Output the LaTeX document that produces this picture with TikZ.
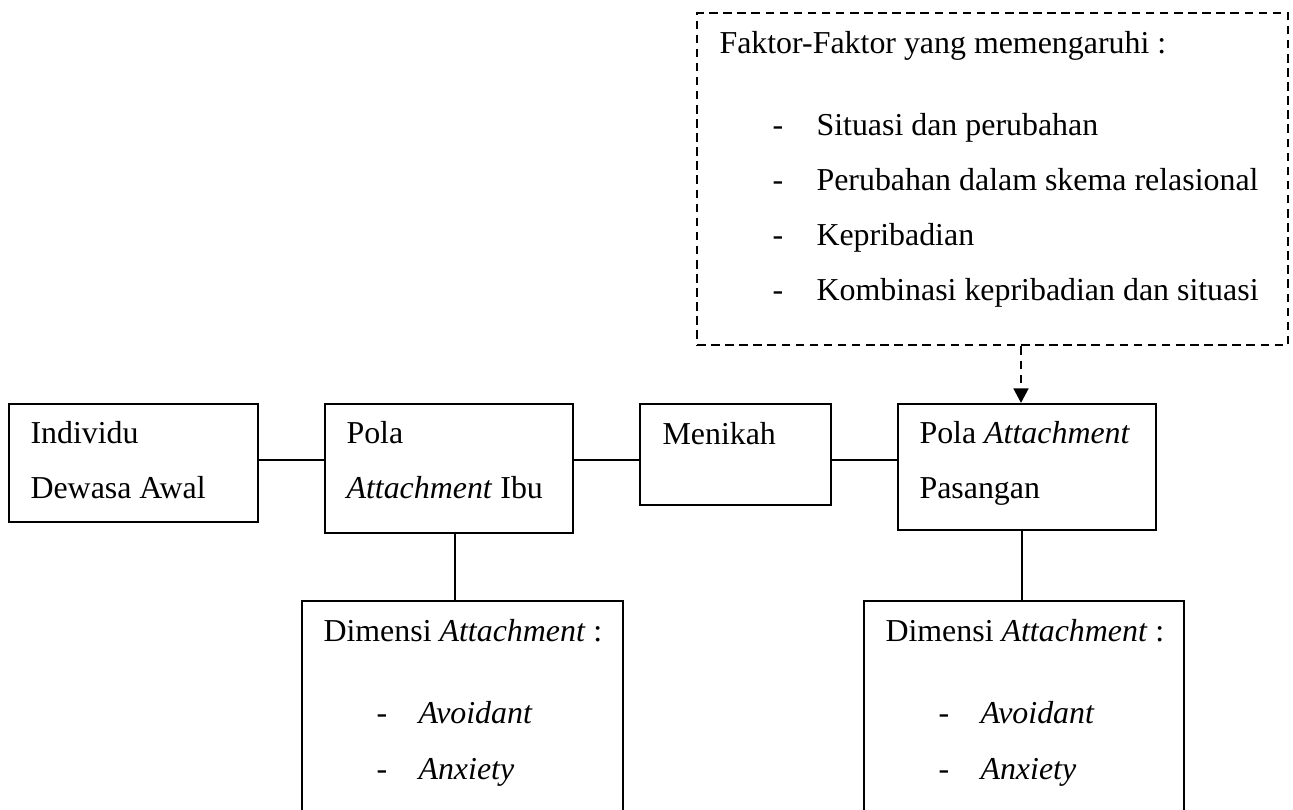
\documentclass[tikz,border=0pt]{standalone}
\usepackage{fontspec}
\setmainfont{Liberation Serif}
\usetikzlibrary{arrows.meta,fit}

\begin{document}
\begin{tikzpicture}[x=0.3762pt,y=-0.3762pt,font=\fontsize{12}{14}\selectfont,
  box/.style={draw=black,line width=0.75pt,inner sep=0pt},
  dashbox/.style={draw=black,line width=1.1pt,dash pattern=on 3.2pt off 2.1pt,inner sep=0pt},
  link/.style={draw=black,line width=0.75pt},
  dashlink/.style={draw=black,line width=1.1pt,dash pattern=on 3.2pt off 2.1pt,-{Triangle[length=5.5pt,width=5.5pt]}},
  txt/.style={anchor=base west,inner sep=0pt}]
\useasboundingbox (0,0) rectangle (1293,810);
\clip (0,0) rectangle (1293,810);
% boxes
\node[dashbox,fit={(697,13) (1288,345)}] (faktor) {};
\node[box,fit={(9,404) (258,522)}] (indiv) {};
\node[box,fit={(325,404) (573,533)}] (polaibu) {};
\node[box,fit={(640,404) (831,505)}] (menikah) {};
\node[box,fit={(898,404) (1156,530)}] (polapas) {};
\node[box,fit={(302,601) (623,870)}] (dimibu) {};
\node[box,fit={(864,601) (1184,870)}] (dimpas) {};
% texts
\node[txt] (faktor0) at (719,53) {Faktor-Faktor yang memengaruhi :};
\node[txt] (faktor1d) at (772,135) {-};
\node[txt] (faktor1) at (816,135) {Situasi dan perubahan};
\node[txt] (faktor2d) at (772,190) {-};
\node[txt] (faktor2) at (816,190) {Perubahan dalam skema relasional};
\node[txt] (faktor3d) at (772,245) {-};
\node[txt] (faktor3) at (816,245) {Kepribadian};
\node[txt] (faktor4d) at (772,300) {-};
\node[txt] (faktor4) at (816,300) {Kombinasi kepribadian dan situasi};
\node[txt] (indiv1) at (30,443) {Individu};
\node[txt] (indiv2) at (30,498) {Dewasa Awal};
\node[txt] (polaibu1) at (346,443) {Pola};
\node[txt] (polaibu2) at (346,498) {\textit{Attachment} Ibu};
\node[txt] (menikah1) at (662,444) {Menikah};
\node[txt] (polapas1) at (919,443) {Pola \textit{Attachment}};
\node[txt] (polapas2) at (919,498) {Pasangan};
\node[txt] (dimibu0) at (323,641) {Dimensi \textit{Attachment} :};
\node[txt] (dimibu1d) at (376,723) {-};
\node[txt] (dimibu1) at (418,723) {\textit{Avoidant}};
\node[txt] (dimibu2d) at (376,779) {-};
\node[txt] (dimibu2) at (418,779) {\textit{Anxiety}};
\node[txt] (dimpas0) at (885,641) {Dimensi \textit{Attachment} :};
\node[txt] (dimpas1d) at (938,723) {-};
\node[txt] (dimpas1) at (980,723) {\textit{Avoidant}};
\node[txt] (dimpas2d) at (938,779) {-};
\node[txt] (dimpas2) at (980,779) {\textit{Anxiety}};
% connectors
\coordinate (row) at (0,460);
\coordinate (colibu) at (455,0);
\coordinate (colpas) at (1022,0);
\coordinate (colarr) at (1021,0);
\draw[link] (indiv.east |- row) -- (polaibu.west |- row);
\draw[link] (polaibu.east |- row) -- (menikah.west |- row);
\draw[link] (menikah.east |- row) -- (polapas.west |- row);
\draw[link] (polaibu.south -| colibu) -- (dimibu.north -| colibu);
\draw[link] (polapas.south -| colpas) -- (dimpas.north -| colpas);
\draw[dashlink] (faktor.south -| colarr) -- (polapas.north -| colarr);
\end{tikzpicture}
\end{document}
